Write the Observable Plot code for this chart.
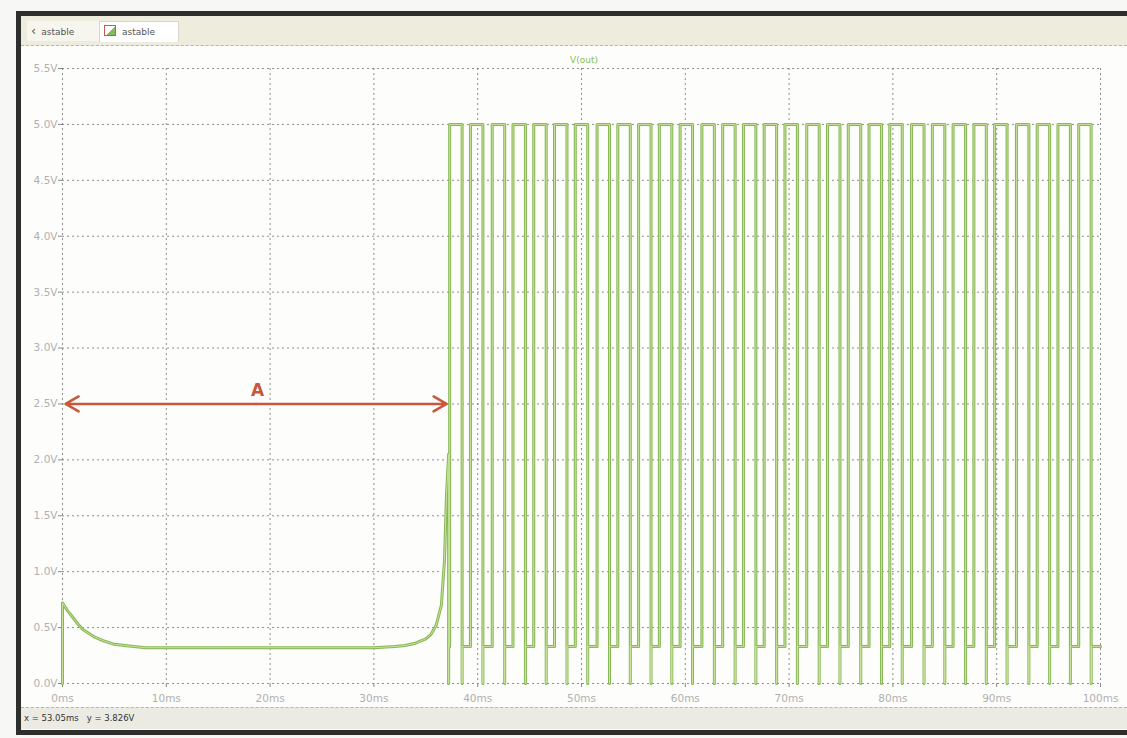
<!DOCTYPE html>
<html>
<head>
<meta charset="utf-8">
<script src="https://cdn.jsdelivr.net/npm/d3@7"></script>
<script src="https://cdn.jsdelivr.net/npm/@observablehq/plot@0.6"></script>
<style>
  html, body { margin: 0; padding: 0; background: #f6f6f4; }
  #page { position: relative; width: 1127px; height: 738px; overflow: hidden; background: #f7f7f5; font-family: "DejaVu Sans", sans-serif; }
  #frame { position: absolute; left: 16px; top: 11px; width: 1120px; height: 724px; border: 5px solid #2e2e2c; border-right: none; box-sizing: border-box; background: #fdfdfb; }
  #tabbar { position: absolute; left: 21px; top: 16px; width: 1106px; height: 29px; background: #eeecdd; border-bottom: 1px dashed #b8b6a6; }
  .tab { position: absolute; top: 5px; height: 20px; font-size: 9px; color: #555; line-height: 20px; padding-left: 4px; }
  #tab1 { left: 6px; width: 68px; background: #f6f5ee; }
  #tab2 { left: 78px; width: 74px; background: #ffffff; border: 1px solid #d8d6c8; border-bottom: none; }
  .ico1 { display: inline-block; font-size: 13px; color: #555; margin-right: 5px; }
  .ico2 { display: inline-block; width: 10px; height: 9px; border: 1px solid #c85a4a; margin-right: 6px; vertical-align: -1px; background: linear-gradient(135deg, #fff 55%, #8bb85a 56%); }
  #plotwrap { position: absolute; left: 0; top: 45px; }
  #vlabel { position: absolute; left: 570px; top: 55px; font-size: 9px; color: #8cbf4f; }
  #status { position: absolute; left: 21px; top: 707px; width: 1106px; height: 22px; background: #ecebe3; border-top: 1px dashed #b8b6a6; font-size: 8.5px; color: #333; line-height: 20px; padding-left: 3px; box-sizing: border-box; }
</style>
</head>
<body>
<div id="page">
  <div id="frame"></div>
  <div id="tabbar">
    <div class="tab" id="tab1"><span class="ico1">&#x2039;</span>astable</div>
    <div class="tab" id="tab2"><span class="ico2"></span>astable</div>
  </div>
  <div id="plotwrap"></div>
  <div id="vlabel">V(out)</div>
  <div id="status">x = 53.05ms &nbsp;&nbsp;y = 3.826V</div>
</div>
<script>
// ---- Data ----
const xTicks = [0, 10, 20, 30, 40, 50, 60, 70, 80, 90, 100];          // ms
const yTicks = [0, 0.5, 1, 1.5, 2, 2.5, 3, 3.5, 4, 4.5, 5, 5.5];      // V

// start-up transient (time ms, voltage V)
const startupTime = [0, 0, 0.5, 1, 1.5, 2, 3, 4, 5, 6, 8, 10, 15, 20, 25, 30, 32, 33, 34, 35, 35.5, 36, 36.5, 36.8, 37.0, 37.2, 37.2];
const startupVolt = [0, 0.72, 0.65, 0.59, 0.53, 0.48, 0.42, 0.38, 0.35, 0.34, 0.32, 0.32, 0.32, 0.32, 0.32, 0.32, 0.33, 0.34, 0.36, 0.40, 0.44, 0.52, 0.70, 1.10, 1.70, 2.05, 0.0];

// oscillation edges (ms)
const riseTimes = [37.3, 39.3, 41.4, 43.4, 45.4, 47.4, 49.4, 51.5, 53.5, 55.5, 57.5, 59.5, 61.6, 63.6, 65.6, 67.6, 69.6, 71.7, 73.7, 75.7, 77.7, 79.7, 81.8, 83.8, 85.8, 87.8, 89.8, 91.9, 93.9, 95.9, 97.9];
const fallTimes = [38.5, 40.5, 42.6, 44.6, 46.6, 48.6, 50.6, 52.7, 54.7, 56.7, 58.7, 60.7, 62.8, 64.8, 66.8, 68.8, 70.8, 72.9, 74.9, 76.9, 78.9, 80.9, 83.0, 85.0, 87.0, 89.0, 91.0, 93.1, 95.1, 97.1, 99.1];
const highLevel = 5.0;     // V
const lowLevel = 0.33;     // V
const undershootLevel = 0.0; // V
const endTime = 100;       // ms

// annotation "A"
const arrowStart = 0.3, arrowEnd = 37.0, arrowLevel = 2.5;
const arrowLabel = "A", arrowLabelTime = 18.8, arrowLabelLevel = 2.62;

// ---- Build waveform table ----
const wave = startupTime.map((t, i) => ({t, v: startupVolt[i]}));
wave.push({t: startupTime[startupTime.length - 1], v: lowLevel});
riseTimes.forEach((r, i) => {
  const f = fallTimes[i];
  wave.push({t: r, v: lowLevel}, {t: r, v: highLevel}, {t: f, v: highLevel},
            {t: f, v: undershootLevel}, {t: f, v: lowLevel});
});
wave.push({t: endTime, v: lowLevel});

const mid = (arrowStart + arrowEnd) / 2;
const arrows = [
  {x1: mid, x2: arrowStart, y: arrowLevel},
  {x1: mid, x2: arrowEnd, y: arrowLevel}
];

const chart = Plot.plot({
  width: 1127,
  height: 660,
  marginTop: 23,
  marginBottom: 22,
  marginLeft: 62,
  marginRight: 27,
  style: {background: "transparent", color: "#b0b0b0", fontSize: "10.5px", fontFamily: "DejaVu Sans, sans-serif"},
  x: {domain: [0, 100]},
  y: {domain: [0, 5.5]},
  marks: [
    Plot.gridX(xTicks, {stroke: "#7a7a7a", strokeOpacity: 0.85, strokeDasharray: "2,3"}),
    Plot.gridY(yTicks, {stroke: "#7a7a7a", strokeOpacity: 0.85, strokeDasharray: "2,3"}),
    Plot.axisY(yTicks, {tickFormat: d => d.toFixed(1) + "V", tickSize: 4, tickPadding: 1, label: null, stroke: "#888"}),
    Plot.axisX(xTicks, {tickFormat: d => d + "ms", tickSize: 4, tickPadding: 7, label: null, stroke: "#888"}),
    Plot.line(wave, {x: "t", y: "v", stroke: "#88b655", strokeWidth: 3, curve: "linear"}),
    Plot.line(wave, {x: "t", y: "v", stroke: "#c8e39c", strokeWidth: 1, curve: "linear"}),
    Plot.arrow(arrows, {x1: "x1", x2: "x2", y1: "y", y2: "y", stroke: "#c9573b", strokeWidth: 2.5, headLength: 9, headAngle: 60}),
    Plot.text([arrowLabel], {x: arrowLabelTime, y: arrowLabelLevel, text: d => d, fill: "#c9573b", fontSize: 17, fontWeight: "bold"})
  ]
});
document.getElementById("plotwrap").appendChild(chart);
</script>
</body>
</html>
